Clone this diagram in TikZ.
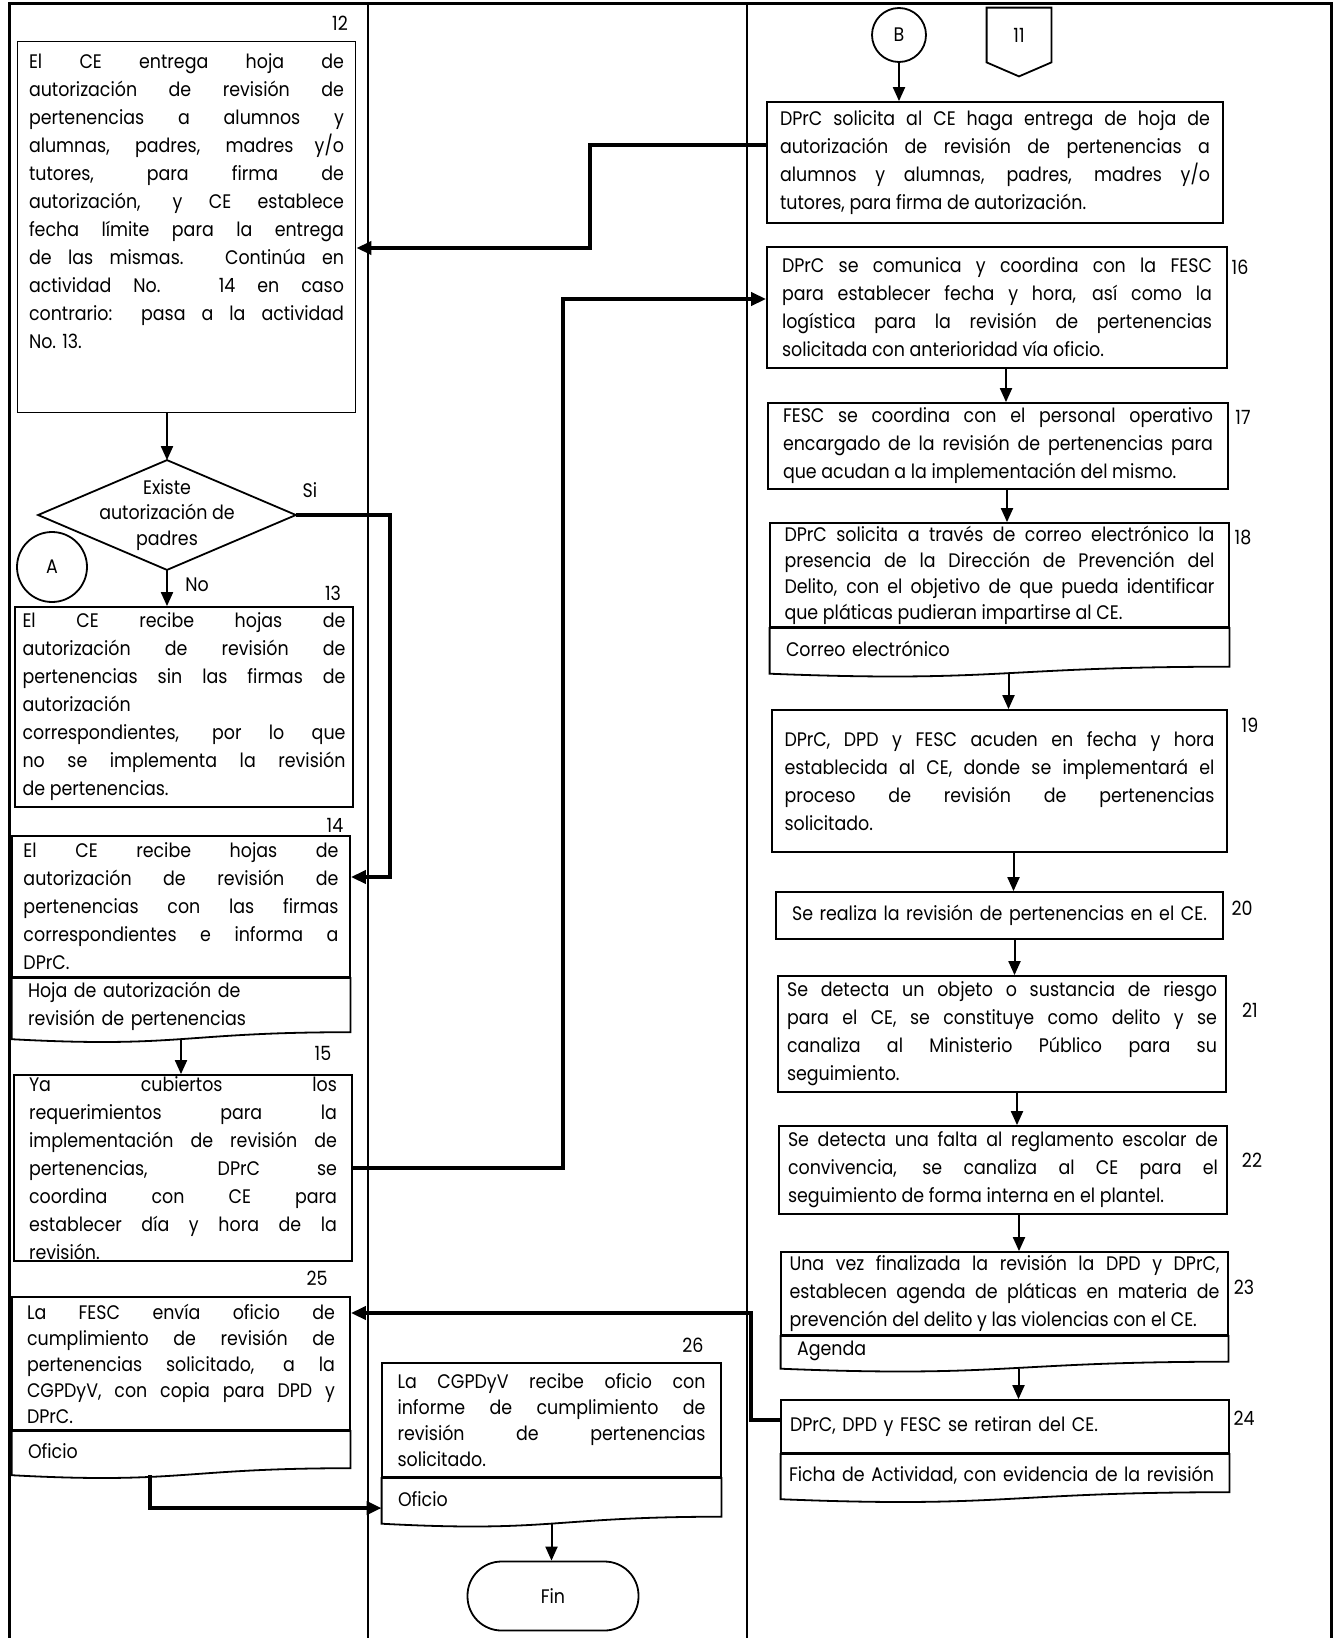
\documentclass[tikz,border=0pt]{standalone}
\usepackage{fontspec}
\setmainfont{Poppins}[FakeStretch=0.89]
\usetikzlibrary{arrows.meta,calc,positioning}
\hyphenpenalty=10000
\exhyphenpenalty=10000

% document symbol: wavy lower edge under a node
\newcommand{\docwave}[1]{%
  \draw[line width=0.9pt] (#1.north west) -- (#1.north east)
    -- ([yshift=1.75pt]#1.south east)
    .. controls ([yshift=1.75pt]#1.south) and ([yshift=-6.3pt]#1.south)
    .. ([yshift=-1.75pt]#1.south west) -- cycle;}

\begin{document}
\begin{tikzpicture}[
    x=0.5pt, y=-0.5pt,
    font=\fontsize{9.8}{14}\selectfont,
    box/.style={
        draw,
        line width=0.9pt,
        inner sep=0pt,
        align=justify,
        text width=157.5pt,
        minimum width=169pt
    },
    rbox/.style={box, text width=215pt},
    doc/.style={inner xsep=8pt, inner ysep=0pt, align=left, anchor=north},
    num/.style={inner sep=1pt},
    conn/.style={draw, circle, line width=0.9pt, inner sep=0pt},
    flow/.style={-{Triangle[length=7pt,width=6pt]}, line width=1pt},
    link/.style={-{Triangle[length=7.5pt,width=6.5pt]}, line width=2pt},
    lane/.style={line width=1pt}
]
\useasboundingbox (0,0) rectangle (1335,1638);

% Lanes
\draw[line width=1.5pt] (9,1638) -- (9,3) -- (1331,3) -- (1331,1638);
\draw[lane] (368,3) -- (368,1638);
\draw[lane] (747,3) -- (747,1638);

% Left lane
\node[num] (n12) at (340,23) {12};
\node[box, minimum height=185pt, inner ysep=6pt, text depth=166pt] (b12) at (186.5,227)
    {El CE entrega hoja de\linebreak autorización de revisión de\linebreak
     pertenencias a alumnos y\linebreak alumnas, padres, madres y/o\linebreak
     tutores, para firma de\linebreak autorización, y CE establece\linebreak
     fecha límite para la entrega\linebreak de las mismas. Continúa en\linebreak
     actividad No. 14 en caso\linebreak contrario: pasa a la actividad\linebreak
     No. 13.};

\node[inner sep=0pt, minimum width=128.5pt, minimum height=54.5pt, align=center,
      font=\fontsize{9.8}{12.7}\selectfont] (dec) at (167,515)
    {Existe\\autorización de\\padres};
\draw[line width=0.9pt] (dec.north) -- (dec.east) -- (dec.south) -- (dec.west) -- cycle;
\node (lsi) at (310,490) {Si};
\node (lno) at (197,585) {No};

\node[conn, minimum size=35pt] (conA) at (52,567) {A};

\node[num] (n13) at (333,593) {13};
\node[box, text width=161.5pt, minimum height=100pt] (b13) at (184,707)
    {El CE recibe hojas de\linebreak autorización de revisión de\linebreak
     pertenencias sin las firmas de\linebreak autorización\\
     correspondientes, por lo que\linebreak no se implementa la revisión\linebreak
     de pertenencias.};

\node[num] (n14) at (335,825) {14};
\node[box, minimum height=70.5pt] (b14) at (181,906.5)
    {El CE recibe hojas de\linebreak autorización de revisión de\linebreak
     pertenencias con las firmas\linebreak correspondientes e informa a\linebreak
     DPrC.};
\node[doc, text width=153pt, minimum height=28.5pt] (d14) at (b14.south)
    {Hoja de autorización de\\revisión de pertenencias};
\docwave{d14}

\node[num] (n15) at (323,1053) {15};
\node[box, text width=154pt, minimum height=93pt] (b15) at (183,1168)
    {Ya cubiertos los\linebreak requerimientos para la\linebreak
     implementación de revisión de\linebreak pertenencias, DPrC se\linebreak
     coordina con CE para\linebreak establecer día y hora de la\linebreak
     revisión.};

\node[num] (n25) at (317,1278) {25};
\node[box, text width=154pt, minimum height=66.5pt,
      font=\fontsize{9.8}{13}\selectfont] (b25) at (181,1363.5)
    {La FESC envía oficio de\linebreak cumplimiento de revisión de\linebreak
     pertenencias solicitado, a la\linebreak CGPDyV, con copia para DPD y\linebreak
     DPrC.};
\node[doc, text width=153pt, minimum height=20pt] (d25) at (b25.south) {Oficio};
\docwave{d25}

% Middle lane
\node[num] (n26) at (693,1345) {26};
\node[box, text width=154pt, minimum width=169.5pt, minimum height=57pt,
      font=\fontsize{9.8}{13}\selectfont] (b26) at (551.5,1420)
    {La CGPDyV recibe oficio con\linebreak informe de cumplimiento de\linebreak
     revisión de pertenencias\linebreak solicitado.};
\node[doc, text width=153.5pt, minimum height=20.75pt] (d26) at (b26.south) {Oficio};
\docwave{d26}

\node[draw, line width=0.9pt, rounded corners=17pt, minimum width=85.5pt,
      minimum height=34.5pt] (fin) at (553,1596) {Fin};

% Right lane
\node[conn, minimum size=27pt] (conB) at (899,35) {B};
\node[inner sep=0pt, minimum width=32pt, minimum height=27pt] (off11) at (1019,35) {11};
\draw[line width=0.9pt] (off11.north west) -- (off11.north east) -- (off11.south east)
    -- ([yshift=-7pt]off11.south) -- (off11.south west) -- cycle;

\node[rbox, minimum width=228pt, minimum height=60.5pt] (s1) at (995,162.5)
    {DPrC solicita al CE haga entrega de hoja de\linebreak
     autorización de revisión de pertenencias a\linebreak
     alumnos y alumnas, padres, madres y/o\linebreak
     tutores, para firma de autorización.};

\node[num] (n16) at (1240,267) {16};
\node[rbox, minimum width=230pt, minimum height=60.5pt] (b16) at (997,307.5)
    {DPrC se comunica y coordina con la FESC\linebreak
     para establecer fecha y hora, así como la\linebreak
     logística para la revisión de pertenencias\linebreak
     solicitada con anterioridad vía oficio.};

\node[num] (n17) at (1243,417) {17};
\node[rbox, minimum width=230pt, minimum height=43pt] (b17) at (998,446)
    {FESC se coordina con el personal operativo\linebreak
     encargado de la revisión de pertenencias para\linebreak
     que acudan a la implementación del mismo.};

\node[num] (n18) at (1243,537) {18};
\node[rbox, minimum width=229.5pt, minimum height=52pt,
      font=\fontsize{9.8}{13}\selectfont] (b18) at (999.5,575)
    {DPrC solicita a través de correo electrónico la\linebreak
     presencia de la Dirección de Prevención del\linebreak
     Delito, con el objetivo de que pueda identificar\linebreak
     que pláticas pudieran impartirse al CE.};
\node[doc, text width=213.5pt, minimum height=20.75pt] (d18) at (b18.south) {Correo electrónico};
\docwave{d18}

\node[num] (n19) at (1250,725) {19};
\node[rbox, minimum width=227.5pt, minimum height=71pt] (b19) at (999.5,781)
    {DPrC, DPD y FESC acuden en fecha y hora\linebreak
     establecida al CE, donde se implementará el\linebreak
     proceso de revisión de pertenencias\linebreak
     solicitado.};

\node[num] (n20) at (1242,908) {20};
\node[rbox, align=center, text width=219pt, minimum width=223.5pt, minimum height=23.5pt] (b20) at (999.5,915.5)
    {Se realiza la revisión de pertenencias en el CE.};

\node[num] (n21) at (1250,1010) {21};
\node[rbox, minimum width=224pt, minimum height=58pt] (b21) at (1002,1034)
    {Se detecta un objeto o sustancia de riesgo\linebreak
     para el CE, se constituye como delito y se\linebreak
     canaliza al Ministerio Público para su\linebreak
     seguimiento.};

\node[num] (n22) at (1252,1160) {22};
\node[rbox, minimum width=224pt, minimum height=44pt] (b22) at (1003,1170)
    {Se detecta una falta al reglamento escolar de\linebreak
     convivencia, se canaliza al CE para el\linebreak
     seguimiento de forma interna en el plantel.};

\node[num] (n23) at (1244,1287) {23};
\node[rbox, minimum width=223.5pt, minimum height=41.5pt] (b23) at (1004.5,1293.5)
    {Una vez finalizada la revisión la DPD y DPrC,\linebreak
     establecen agenda de pláticas en materia de\linebreak
     prevención del delito y las violencias con el CE.};
\node[doc, text width=207.5pt, minimum height=14.25pt] (d23) at (b23.south) {Agenda};
\docwave{d23}

\node[num] (n24) at (1244,1418) {24};
\node[rbox, align=left, minimum width=224pt, minimum height=26.5pt] (b24) at (1005,1426.5)
    {DPrC, DPD y FESC se retiran del CE.};
\node[doc, text width=216pt, inner xsep=4pt, minimum height=20.5pt] (d24) at (b24.south)
    {Ficha de Actividad, con evidencia de la revisión};
\docwave{d24}

% Flow inside the lanes
\draw[flow] (dec.north |- b12.south) -- (dec.north);
\draw[flow] (dec.south) -- (dec.south |- b13.north);
\draw[flow] ([yshift=-1.75pt]d14.south) -- (d14.south |- b15.north);
\draw[flow] ([yshift=-1.75pt]d26.south) -- (d26.south |- fin.north);
\draw[flow] (conB.south) -- (conB.south |- s1.north);
\draw[flow] ([xshift=4.5pt]b16.south) -- ([xshift=4.5pt]b16.south |- b17.north);
\draw[flow] ([xshift=4.5pt]b17.south) -- ([xshift=4.5pt]b17.south |- b18.north);
\draw[flow] ([xshift=4.5pt,yshift=-1.75pt]d18.south) -- ([xshift=4.5pt]d18.south |- b19.north);
\draw[flow] ([xshift=7pt]b19.south) -- ([xshift=7pt]b19.south |- b20.north);
\draw[flow] ([xshift=7.5pt]b20.south) -- ([xshift=7.5pt]b20.south |- b21.north);
\draw[flow] ([xshift=7.5pt]b21.south) -- ([xshift=7.5pt]b21.south |- b22.north);
\draw[flow] ([xshift=8pt]b22.south) -- ([xshift=8pt]b22.south |- b23.north);
\draw[flow] ([xshift=7pt,yshift=-1.75pt]d23.south) -- ([xshift=7pt]d23.south |- b24.north);

% Links across the lanes
\draw[link] ([yshift=8.75pt]s1.west) -- ++(-88pt,0) |- ([yshift=-10.5pt]b12.east);
\draw[link] (dec.east) -- ++(47.25pt,0) |- ([yshift=14.75pt]b14.east);
\draw[link] (b15.east) -- ++(105pt,0) |- ([yshift=4.25pt]b16.west);
\draw[link] ([yshift=3.25pt]b24.west) -- ++(-14.5pt,0) |- ([yshift=25.25pt]b25.east);
\draw[link] ([xshift=-15.5pt,yshift=-1.75pt]d25.south) |- ([yshift=-4.5pt]d26.west);

\end{tikzpicture}
\end{document}
